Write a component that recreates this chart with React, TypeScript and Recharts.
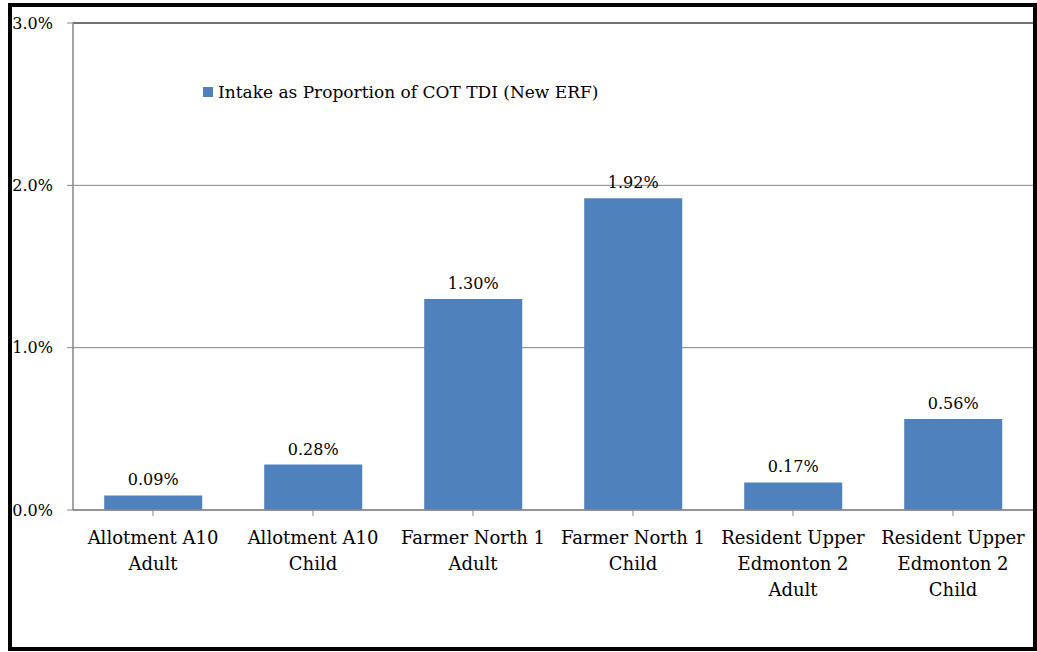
import React from "react";
import {
  BarChart,
  Bar,
  XAxis,
  YAxis,
  CartesianGrid,
  Legend,
  LabelList,
  ReferenceLine,
} from "recharts";

const categories = [
  "Allotment A10\nAdult",
  "Allotment A10\nChild",
  "Farmer North 1\nAdult",
  "Farmer North 1\nChild",
  "Resident Upper\nEdmonton 2\nAdult",
  "Resident Upper\nEdmonton 2\nChild",
];
const intakeValues = [0.09, 0.28, 1.3, 1.92, 0.17, 0.56];
const yTicks = [0, 1, 2, 3];
const seriesName = "Intake as Proportion of COT TDI (New ERF)";

const data = categories.map((name, i) => ({ name, value: intakeValues[i] }));

const FONT = "'DejaVu Serif', serif";
const BAR_COLOR = "#4F81BD";
const GRID = "#868686";

const CategoryTick = (props: any) => {
  const { x, y, payload } = props;
  const lines = String(payload.value).split("\n");
  return (
    <g transform={`translate(${x},${y})`}>
      {lines.map((line: string, i: number) => (
        <text
          key={i}
          x={0}
          y={26 + i * 26}
          textAnchor="middle"
          fill="#000"
          fontSize={18}
          fontFamily={FONT}
        >
          {line}
        </text>
      ))}
    </g>
  );
};

const LegendContent = () => (
  <div style={{ display: "flex", alignItems: "center", fontFamily: FONT, fontSize: 17, color: "#000" }}>
    <span style={{ width: 10, height: 10, background: BAR_COLOR, display: "inline-block", marginRight: 5 }} />
    <span>{seriesName}</span>
  </div>
);

export default function App() {
  return (
    <div style={{ position: "absolute", left: 0, top: 0, width: 1037, height: 652, background: "#fff" }}>
      <div
        style={{
          position: "absolute",
          left: 8,
          top: 3,
          width: 1029,
          height: 648,
          boxSizing: "border-box",
          border: "4px solid #000",
        }}
      />
      <BarChart
        width={1037}
        height={652}
        data={data}
        margin={{ top: 23, right: 4, bottom: 12, left: 13 }}
        barCategoryGap="19.5%"
      >
        <CartesianGrid vertical={false} stroke={GRID} strokeWidth={1} />
        <XAxis
          dataKey="name"
          height={130}
          interval={0}
          tick={<CategoryTick />}
          tickLine={{ stroke: GRID }}
          axisLine={{ stroke: GRID, strokeWidth: 1.5 }}
          tickSize={6}
        />
        <YAxis
          width={60}
          domain={[0, 3]}
          ticks={yTicks}
          tickFormatter={(v: number) => `${v.toFixed(1)}%`}
          tick={{ fill: "#000", fontSize: 16, fontFamily: FONT }}
          tickLine={{ stroke: GRID }}
          axisLine={{ stroke: GRID, strokeWidth: 1.5 }}
          tickSize={6}
          tickMargin={14}
        />
        <ReferenceLine y={3} stroke="#222" strokeWidth={1} />
        <Legend
          content={<LegendContent />}
          layout="horizontal"
          verticalAlign="middle"
          align="center"
          wrapperStyle={{ position: "absolute", left: 203, top: 82, width: 440 }}
        />
        <Bar dataKey="value" name={seriesName} fill={BAR_COLOR} isAnimationActive={false}>
          <LabelList
            dataKey="value"
            position="top"
            offset={10}
            formatter={(v: any) => `${Number(v).toFixed(2)}%`}
            style={{ fill: "#000", fontSize: 16, fontFamily: FONT }}
          />
        </Bar>
      </BarChart>
    </div>
  );
}
